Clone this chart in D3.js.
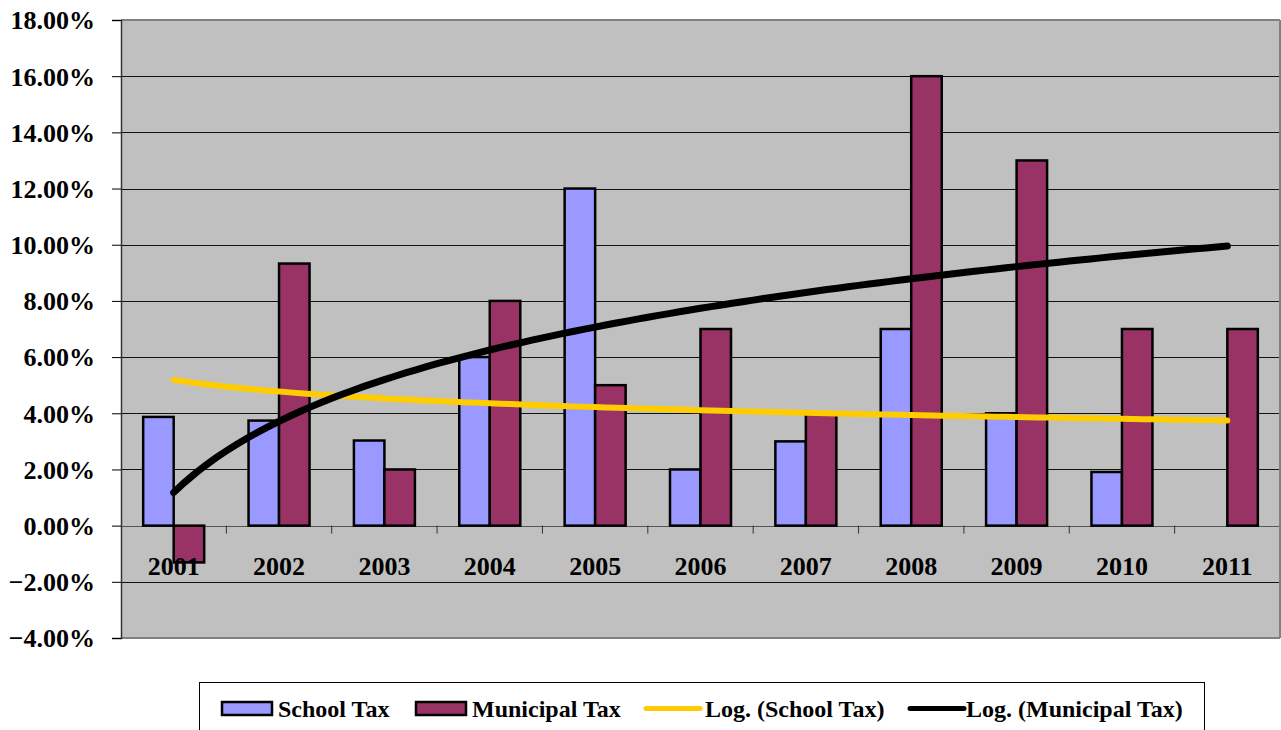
<!DOCTYPE html>
<html>
<head>
<meta charset="utf-8">
<script src="https://cdn.jsdelivr.net/npm/d3@7"></script>
<style>
  html, body { margin: 0; padding: 0; background: #fff; }
  svg { display: block; }
  text { font-family: "Liberation Serif", "Times New Roman", serif; font-weight: bold; fill: #000; }
</style>
</head>
<body>
<svg id="chart" width="1281" height="730"></svg>
<script>
// ---- Data ----
const years = ["2001","2002","2003","2004","2005","2006","2007","2008","2009","2010","2011"];
const schoolTax = [3.87, 3.74, 3.03, 6.00, 12.00, 2.00, 3.00, 7.00, 4.00, 1.91, 0.00];
const municipalTax = [-1.31, 9.33, 2.00, 8.00, 5.00, 7.00, 4.00, 16.00, 13.00, 7.00, 7.00];
const yTicks = [-4, -2, 0, 2, 4, 6, 8, 10, 12, 14, 16, 18];
const seriesNames = ["School Tax", "Municipal Tax", "Log. (School Tax)", "Log. (Municipal Tax)"];

// ---- Layout ----
const svg = d3.select("#chart");
const plot = { left: 121, right: 1280, top: 20, bottom: 638 };

const x = d3.scaleBand().domain(years).range([plot.left, plot.right]).paddingInner(0).paddingOuter(0);
const y = d3.scaleLinear().domain([-4, 18]).range([plot.bottom, plot.top]);
const barW = 30.5;

// plot background
svg.append("rect")
  .attr("x", plot.left).attr("y", plot.top)
  .attr("width", plot.right - plot.left).attr("height", plot.bottom - plot.top)
  .attr("fill", "#C0C0C0");

// gridlines
svg.append("g").selectAll("line").data(yTicks.filter(d => d !== -4 && d !== 18)).join("line")
  .attr("x1", plot.left).attr("x2", plot.right)
  .attr("y1", d => Math.round(y(d)) + 0.5).attr("y2", d => Math.round(y(d)) + 0.5)
  .attr("stroke", d => d === 0 ? "#555" : "#111").attr("stroke-width", 1);

// plot borders (top / right / bottom)
svg.append("line").attr("x1", plot.left).attr("x2", plot.right).attr("y1", plot.top).attr("y2", plot.top)
  .attr("stroke", "#808080").attr("stroke-width", 2);
svg.append("line").attr("x1", plot.right).attr("x2", plot.right).attr("y1", plot.top).attr("y2", plot.bottom)
  .attr("stroke", "#808080").attr("stroke-width", 2);
svg.append("line").attr("x1", plot.left).attr("x2", plot.right).attr("y1", plot.bottom).attr("y2", plot.bottom)
  .attr("stroke", "#808080").attr("stroke-width", 2);

// y axis
const yAxis = d3.axisLeft(y).tickValues(yTicks).tickSize(9).tickPadding(17)
  .tickFormat(d => d3.format(".2f")(d) + "%");
const gy = svg.append("g").attr("transform", `translate(${plot.left},0)`).call(yAxis);
gy.select(".domain").attr("stroke", "#333").attr("stroke-width", 1.5);
gy.selectAll(".tick line").attr("stroke", "#000");
gy.selectAll(".tick text").style("font-size", "26px").style("font-family", '"Liberation Serif", serif')
  .style("font-weight", "bold").attr("fill", "#000").attr("dy", "0.34em");

// category ticks on zero line
const bounds = years.slice(1).map(d => x(d));
svg.append("g").selectAll("line").data(bounds).join("line")
  .attr("x1", d => d).attr("x2", d => d)
  .attr("y1", y(0)).attr("y2", y(0) + 8)
  .attr("stroke", "#333").attr("stroke-width", 1);

// bars
const cx = d => x(d) + x.bandwidth() / 2;
svg.append("g").selectAll("rect").data(years.map((yr, i) => ({ yr, v: schoolTax[i] })).filter(d => d.v !== 0)).join("rect")
  .attr("x", d => cx(d.yr) - barW).attr("width", barW)
  .attr("y", d => y(Math.max(0, d.v))).attr("height", d => Math.abs(y(d.v) - y(0)))
  .attr("fill", "#9999FF").attr("stroke", "#000").attr("stroke-width", 2.5);
svg.append("g").selectAll("rect").data(years.map((yr, i) => ({ yr, v: municipalTax[i] }))).join("rect")
  .attr("x", d => cx(d.yr)).attr("width", barW)
  .attr("y", d => y(Math.max(0, d.v))).attr("height", d => Math.abs(y(d.v) - y(0)))
  .attr("fill", "#993366").attr("stroke", "#000").attr("stroke-width", 2.5);

// category labels
svg.append("g").selectAll("text").data(years).join("text")
  .attr("x", d => cx(d)).attr("y", 575)
  .attr("text-anchor", "middle").style("font-size", "26px").text(d => d);

// logarithmic trendlines (least squares fit of value vs ln(index))
function logFit(vals) {
  const pts = vals.map((v, i) => [Math.log(i + 1), v]);
  const mx = d3.mean(pts, p => p[0]), my = d3.mean(pts, p => p[1]);
  const sxy = d3.sum(pts, p => (p[0] - mx) * (p[1] - my));
  const sxx = d3.sum(pts, p => (p[0] - mx) ** 2);
  const a = sxy / sxx, b = my - a * mx;
  return t => a * Math.log(t) + b;
}
const xPos = d3.scaleLinear().domain([1, years.length]).range([cx(years[0]), cx(years[years.length - 1])]);
const ts = d3.range(1, years.length + 0.001, 0.1);
const line = f => d3.line().x(t => xPos(t)).y(t => y(f(t)))(ts);

svg.append("path").attr("d", line(logFit(schoolTax)))
  .attr("fill", "none").attr("stroke", "#FFCC00").attr("stroke-width", 6).attr("stroke-linecap", "round");
svg.append("path").attr("d", line(logFit(municipalTax)))
  .attr("fill", "none").attr("stroke", "#000").attr("stroke-width", 7).attr("stroke-linecap", "round");

// legend
const lg = svg.append("g");
lg.append("rect").attr("x", 199.5).attr("y", 682.5).attr("width", 1005).attr("height", 80)
  .attr("fill", "#fff").attr("stroke", "#000").attr("stroke-width", 1);
const legendItems = [
  { name: seriesNames[0], type: "rect", color: "#9999FF", sx: 222, tx: 278 },
  { name: seriesNames[1], type: "rect", color: "#993366", sx: 416, tx: 472 },
  { name: seriesNames[2], type: "line", color: "#FFCC00", sx: 646, tx: 705 },
  { name: seriesNames[3], type: "line", color: "#000", sx: 910, tx: 966 }
];
legendItems.forEach(it => {
  if (it.type === "rect") {
    lg.append("rect").attr("x", it.sx).attr("y", 702).attr("width", 50).attr("height", 13)
      .attr("fill", it.color).attr("stroke", "#000").attr("stroke-width", 2.5);
  } else {
    lg.append("line").attr("x1", it.sx).attr("x2", it.sx + 54).attr("y1", 708.5).attr("y2", 708.5)
      .attr("stroke", it.color).attr("stroke-width", 5).attr("stroke-linecap", "round");
  }
  lg.append("text").attr("x", it.tx).attr("y", 717).style("font-size", "24px").text(it.name);
});
</script>
</body>
</html>
